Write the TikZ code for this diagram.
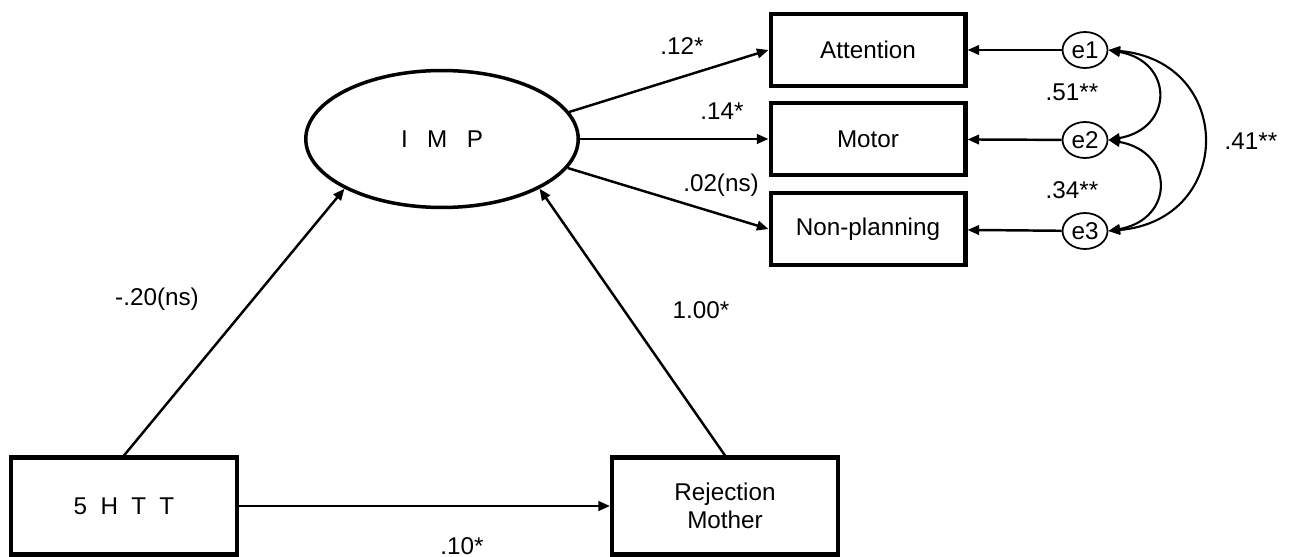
\documentclass[tikz,border=0pt]{standalone}
\usepackage{fontspec}
\setmainfont{Liberation Sans}
\usepackage{tikz}
\usetikzlibrary{shapes,arrows.meta,positioning}

\begin{document}
\begin{tikzpicture}[->,>={Triangle[length=6.6pt,width=5.4pt]},x=0.02cm,y=-0.02cm,line width=1.4pt,font=\fontsize{13.8}{16}\selectfont]

   \tikzstyle{latent}  =[draw,ellipse,line width=2pt,minimum width=5.45cm,minimum height=2.74cm,inner sep=0pt]
   \tikzstyle{observed}=[draw,rectangle,line width=2.3pt,minimum width=3.9cm,minimum height=1.44cm,align=center]
   \tikzstyle{exo}     =[observed,minimum width=4.52cm,minimum height=1.94cm]
   \tikzstyle{error}   =[draw,ellipse,line width=1pt,minimum width=0.9cm,minimum height=0.72cm,inner sep=0pt]
   \tikzstyle{coef}    =[inner sep=0pt]

   % page frame
   \useasboundingbox (0,0) rectangle (1290,557);

    \node[latent] (imp) at (442,139) {I\hspace{0.8em}M\hspace{0.8em}P};

    \node[observed] (att)  at (868,50)  {Attention};
    \node[observed] (mot)  at (868,139) {Motor};
    \node[observed] (nonp) at (868,229) {Non-planning};

    \node[error] (e1) at (1085,50)  {e1};
    \node[error] (e2) at (1085,140) {e2};
    \node[error] (e3) at (1085,231) {e3};

    \node[exo] (htt) at (124,506) {5\hspace{0.55em}H\hspace{0.55em}T\hspace{0.55em}T};
    \node[exo] (rej) at (725,506) {Rejection\\Mother};

    % paths
    \draw (imp.12.8) -- (att.west);
    \draw (imp) -- (mot);
    \draw (imp.-13.9) -- (nonp.west);

    \draw (htt.north) -- (imp.207.6);
    \draw (rej.north) -- (imp.333.3);
    \draw (htt) -- (rej);

    \draw (e1) -- (att);
    \draw (e2) -- (mot);
    \draw (e3) -- (nonp);

    % covariances
    \draw [<->,line width=1.2pt] (e1.east) to[out=-10,in=10,looseness=1.9] (e2.east);
    \draw [<->,line width=1.2pt] (e2.east) to[out=-10,in=10,looseness=1.9] (e3.east);
    \draw [<->,line width=1.2pt] (e1.east) to[out=-5,in=5,looseness=1.8] (e3.east);

    % coefficients
    \node[coef] (c12)  at (682,46)   {.12*};
    \node[coef] (c14)  at (722,111)  {.14*};
    \node[coef] (c02)  at (721,185)  {.02(ns)};
    \node[coef] (c51)  at (1072,92)  {.51**};
    \node[coef] (c34)  at (1072,190) {.34**};
    \node[coef] (c41)  at (1251,141) {.41**};
    \node[coef] (c20)  at (157,299)  {-.20(ns)};
    \node[coef] (c100) at (701,310)  {1.00*};
    \node[coef] (c10)  at (462,546)  {.10*};

\end{tikzpicture}
\end{document}
